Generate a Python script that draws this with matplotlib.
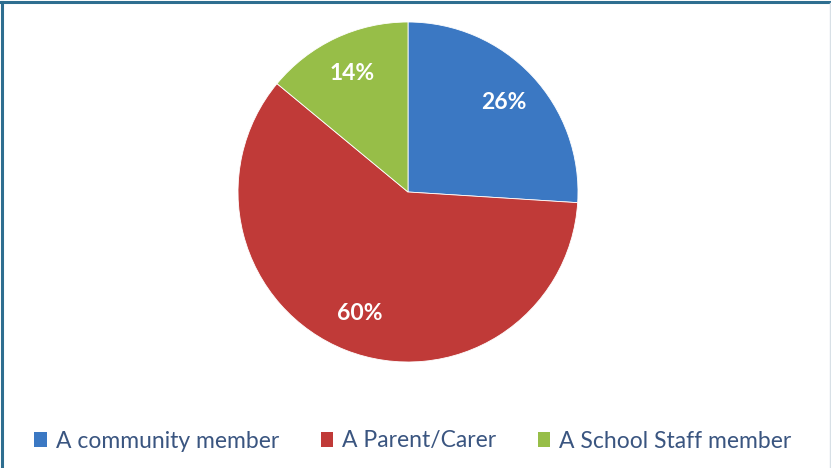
import matplotlib.pyplot as plt
from matplotlib.lines import Line2D

labels = ["A community member", "A Parent/Carer", "A School Staff member"]
shares = [26, 60, 14]
colors = ["#3B78C3", "#C03A38", "#97BE48"]

W, H = 831, 468
fig = plt.figure(figsize=(W / 100, H / 100), dpi=100)
plt.rcParams['font.family'] = ['Lato', 'DejaVu Sans']

# pie centred at (408, 192) px, radius 170 px
cx, cy, r = 408, 192, 170
ax = fig.add_axes([(cx - r) / W, (H - cy - r) / H, 2 * r / W, 2 * r / H])
wedges, _, autotexts = ax.pie(shares, colors=colors, startangle=90, counterclock=False,
                              autopct='%d%%', pctdistance=0.77, radius=1,
                              wedgeprops=dict(linewidth=0.6, edgecolor='white'))
for t in autotexts:
    t.set_color('white')
    t.set_fontsize(16.5)
    t.set_fontweight('bold')
ax.set_xlim(-1, 1)
ax.set_ylim(-1, 1)
ax.set_aspect('equal')
ax.axis('off')

leg = fig.legend(wedges, labels, loc='center', bbox_to_anchor=(413 / W, 1 - 441 / H),
                 ncol=3, frameon=False, fontsize=16.5, handlelength=0.55, handleheight=0.6,
                 handletextpad=0.4, columnspacing=1.8, labelcolor='#3A5580')
for h in leg.legend_handles:
    h.set_edgecolor('none')

# outer border (top, left, right)
fig.add_artist(Line2D([1.5 / W, 1.5 / W], [0, 1 - 1.5 / H], color='#2E6E90', lw=2.2))
fig.add_artist(Line2D([0, 1], [1 - 1.5 / H, 1 - 1.5 / H], color='#2E6E90', lw=2.2))
fig.add_artist(Line2D([830 / W, 830 / W], [0, 1 - 3 / H], color='#D8E0E6', lw=1))

fig.savefig('out.png', dpi=100)
